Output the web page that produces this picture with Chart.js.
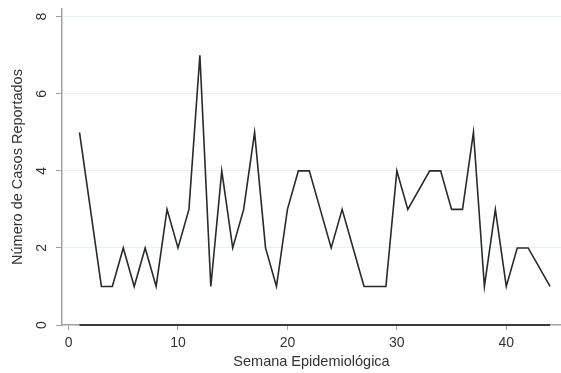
<!DOCTYPE html>
<html>
<head>
<meta charset="utf-8">
<script src="https://cdn.jsdelivr.net/npm/chart.js@4/dist/chart.umd.min.js"></script>
<style>
  html, body { margin: 0; padding: 0; background: #fff; }
  #wrap { width: 561px; height: 373px; position: relative; }
</style>
</head>
<body>
<div id="wrap"><canvas id="chart"></canvas></div>
<script>
// semanas epidemiologicas 1..44
const semanas = [1,2,3,4,5,6,7,8,9,10,11,12,13,14,15,16,17,18,19,20,21,22,
  23,24,25,26,27,28,29,30,31,32,33,34,35,36,37,38,39,40,41,42,43,44];
// casos reportados (null = semana sin dato, la linea la salta)
const casos = [5,3,1,1,2,1,2,1,3,2,3,7,1,4,2,3,5,2,1,3,4,4,
  3,2,3,2,1,1,1,4,3,null,4,4,3,3,5,1,3,1,2,2,null,1];
// segunda serie, toda en cero
const casosCero = [0,0,0,0,0,0,0,0,0,0,0,0,0,0,0,0,0,0,0,0,0,0,
  0,0,0,0,0,0,0,0,0,0,0,0,0,0,0,0,0,0,0,0,0,0];
const xTicks = [0, 10, 20, 30, 40];
const yTicks = [0, 2, 4, 6, 8];

const FONT = "'Liberation Sans', Arial, sans-serif";
const TXT = "#333";
const AXIS = "#a0a0a0";

const toXY = (ys) => semanas.map((s, i) => ({ x: s, y: ys[i] }));

// y tick labels are rotated in the reference, chart.js can't rotate y ticks
const rotatedYLabels = {
  id: "rotatedYLabels",
  afterDraw(chart) {
    const ctx = chart.ctx;
    const y = chart.scales.y;
    ctx.save();
    ctx.fillStyle = TXT;
    ctx.font = "14px " + FONT;
    ctx.textAlign = "center";
    ctx.textBaseline = "middle";
    yTicks.forEach((v) => {
      ctx.save();
      ctx.translate(42, y.getPixelForValue(v));
      ctx.rotate(-Math.PI / 2);
      ctx.fillText(String(v), 0, 0);
      ctx.restore();
    });
    ctx.restore();
  },
};

new Chart(document.getElementById("chart"), {
  type: "line",
  data: {
    datasets: [
      {
        data: toXY(casos),
        borderColor: "#2a2a2a",
        borderWidth: 1.6,
        pointRadius: 0,
        tension: 0,
        spanGaps: true,
      },
      {
        data: toXY(casosCero),
        borderColor: "#3a3a3a",
        borderWidth: 2,
        pointRadius: 0,
        clip: false,
      },
    ],
  },
  options: {
    responsive: true,
    maintainAspectRatio: false,
    animation: false,
    layout: { padding: { top: 9, right: 0, bottom: 0, left: 0 } },
    plugins: { legend: { display: false }, tooltip: { enabled: false } },
    scales: {
      x: {
        type: "linear",
        min: -0.6,
        max: 45,
        afterBuildTicks: (s) => { s.ticks = xTicks.map((v) => ({ value: v })); },
        afterFit: (s) => { s.height = 48; },
        border: { color: AXIS, width: 1.5 },
        grid: { drawOnChartArea: false, drawTicks: true, tickLength: 5, tickColor: AXIS },
        ticks: { color: TXT, font: { family: FONT, size: 14 }, padding: 5, maxRotation: 0 },
        title: {
          display: true,
          text: "Semana Epidemiológica",
          color: TXT,
          font: { family: FONT, size: 14.5 },
          padding: { top: 0, bottom: 2 },
        },
      },
      y: {
        min: 0,
        max: 8.2,
        afterBuildTicks: (s) => { s.ticks = yTicks.map((v) => ({ value: v })); },
        afterFit: (s) => { s.width = 62; },
        border: { color: AXIS, width: 1.5 },
        grid: {
          color: (c) => (c.tick && c.tick.value === 0 ? "rgba(0,0,0,0)" : "#e6eff1"),
          lineWidth: 1,
          drawTicks: true,
          tickLength: 6,
          tickColor: AXIS,
        },
        ticks: { display: false },
        title: {
          display: true,
          text: "Número de Casos Reportados",
          color: TXT,
          font: { family: FONT, size: 14.5 },
          padding: { top: 9, bottom: 0 },
        },
      },
    },
  },
  plugins: [rotatedYLabels],
});
</script>
</body>
</html>
